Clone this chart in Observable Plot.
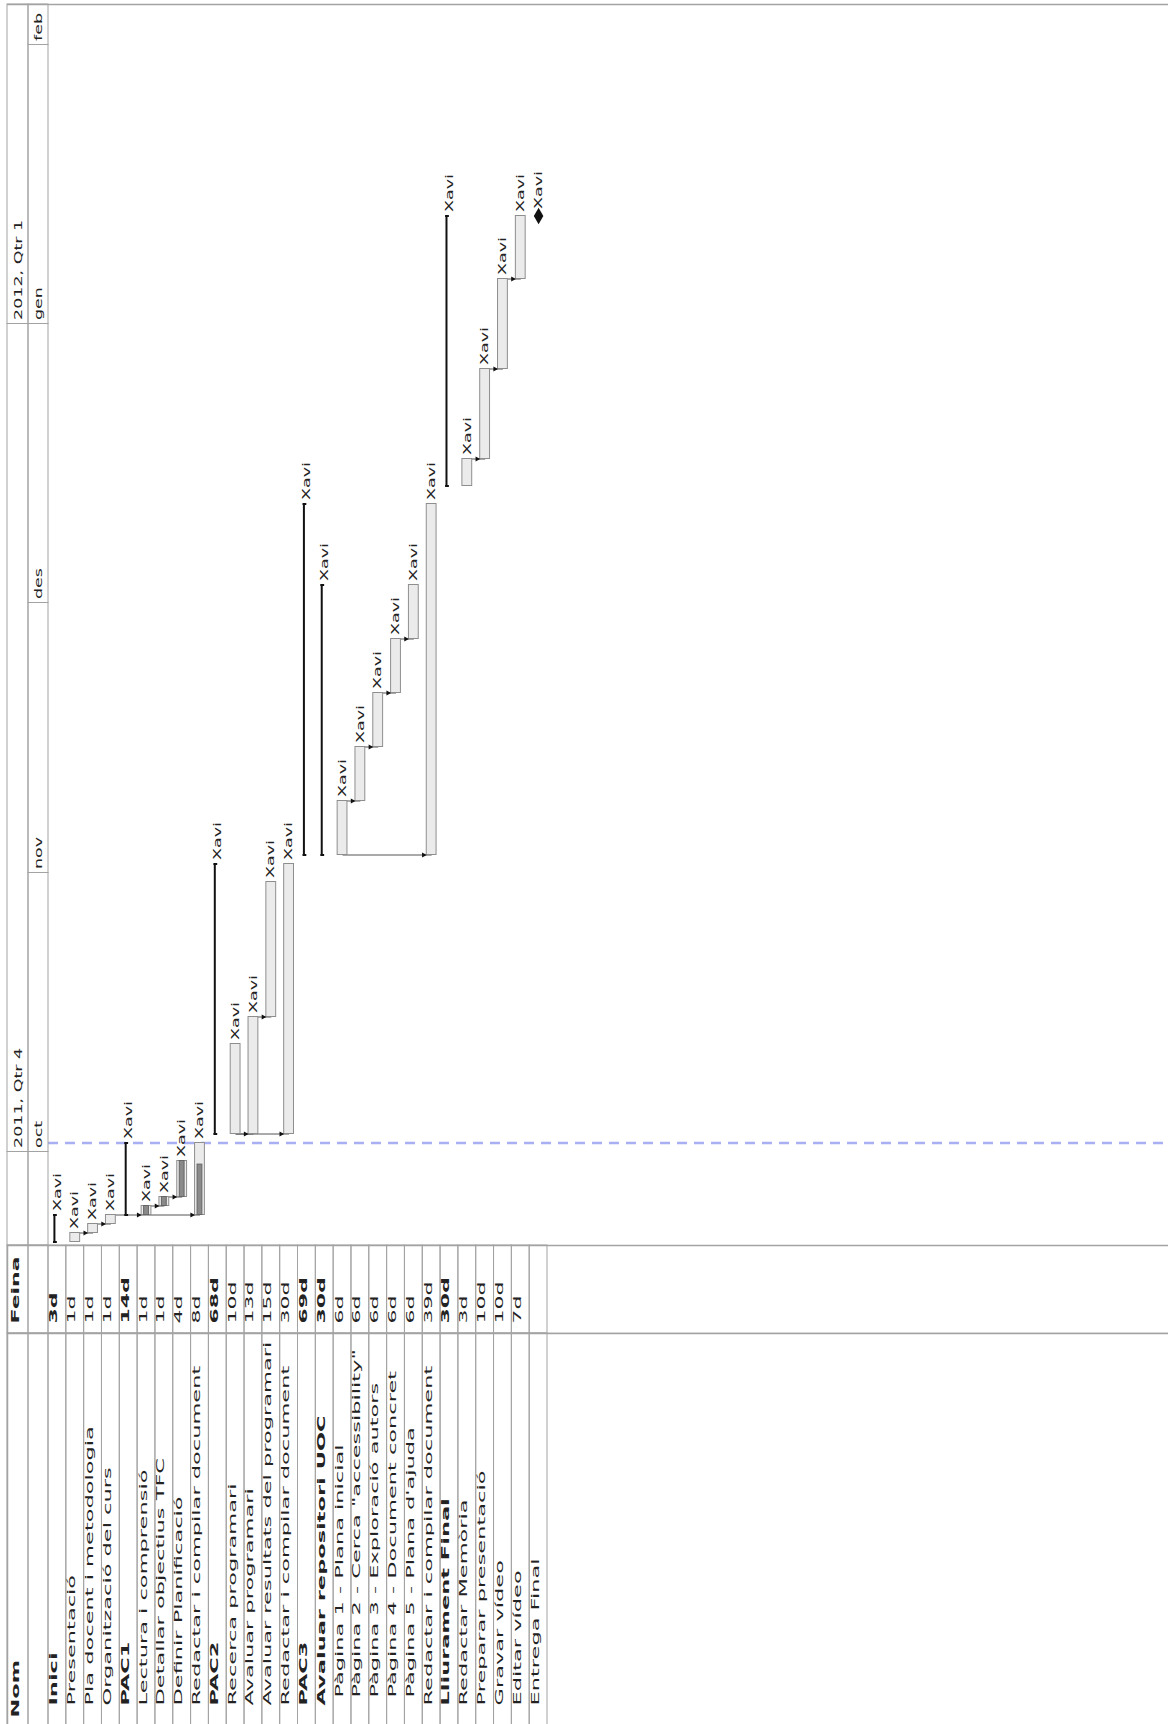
<!DOCTYPE html>
<html><head><meta charset="utf-8">
<script src="https://cdn.jsdelivr.net/npm/d3@7"></script>
<script src="https://cdn.jsdelivr.net/npm/@observablehq/plot@0.6"></script>
<style>
html,body{margin:0;padding:0;background:#fff;}
#wrap{position:relative;width:1168px;height:1724px;overflow:hidden;background:#fff;}
#wrap svg{position:absolute;left:0;}
</style></head><body><div id="wrap"></div>
<script>
// ---------------- data ----------------
const taskNames = ["Inici","Presentació","Pla docent i metodologia","Organització del curs","PAC1","Lectura i comprensió","Detallar objectius TFC","Definir Planificació","Redactar i compilar document","PAC2","Recerca programari","Avaluar programari","Avaluar resultats del programari","Redactar i compilar document","PAC3","Avaluar repositori UOC","Pàgina 1 - Plana inicial","Pàgina 2 - Cerca \"accessibility\"","Pàgina 3 - Exploració autors","Pàgina 4 - Document concret","Pàgina 5 - Plana d'ajuda","Redactar i compilar document","Lliurament Final","Redactar Memòria","Preparar presentació","Gravar vídeo","Editar vídeo","Entrega Final"];
const taskLevels = [0,1,1,1,0,1,1,1,1,0,1,1,1,1,0,1,2,2,2,2,2,1,0,1,1,1,1,1];
const taskWork = ["3d","1d","1d","1d","14d","1d","1d","4d","8d","68d","10d","13d","15d","30d","69d","30d","6d","6d","6d","6d","6d","39d","30d","3d","10d","10d","7d",""];
const taskStart = ["2011-09-21","2011-09-21","2011-09-22","2011-09-23","2011-09-24","2011-09-24","2011-09-25","2011-09-26","2011-09-24","2011-10-03","2011-10-03","2011-10-03","2011-10-16","2011-10-03","2011-11-03","2011-11-03","2011-11-03","2011-11-09","2011-11-15","2011-11-21","2011-11-27","2011-11-03","2011-12-14","2011-12-14","2011-12-17","2011-12-27","2012-01-06","2012-01-13"];
const taskEnd = ["2011-09-24","2011-09-22","2011-09-23","2011-09-24","2011-10-02","2011-09-25","2011-09-26","2011-09-30","2011-10-02","2011-11-02","2011-10-13","2011-10-16","2011-10-31","2011-11-02","2011-12-12","2011-12-03","2011-11-09","2011-11-15","2011-11-21","2011-11-27","2011-12-03","2011-12-12","2012-01-13","2011-12-17","2011-12-27","2012-01-06","2012-01-13","2012-01-13"];
const taskKind = ["summary","task","task","task","summary","task","task","task","task","summary","task","task","task","task","summary","summary","task","task","task","task","task","task","summary","task","task","task","task","milestone"];
const taskProgress = [0,0,0,0,0,1,1,1,0.7,0,0,0,0,0,0,0,0,0,0,0,0,0,0,0,0,0,0,0];
const taskResource = Array.from({length: 28}, () => "Xavi");

const depFrom = [1,2,3,5,6,5,10,10,11,16,17,18,19,16,23,24,25];
const depTo   = [2,3,5,6,7,8,11,13,12,17,18,19,20,21,24,25,26];
const depType = ["FS","FS","FS","FS","FS","SS","SS","SS","FS","FS","FS","FS","FS","SS","FS","FS","FS"];

const monthLabels = ["", "oct", "nov", "des", "gen", "feb"];
const monthStarts = ["2011-09-01","2011-10-01","2011-11-01","2011-12-01","2012-01-01","2012-02-01"];
const quarterLabels = ["", "2011, Qtr 4", "2012, Qtr 1"];
const quarterStarts = ["2011-07-01","2011-10-01","2012-01-01"];
const todayDate = "2011-10-02";
const chartStart = "2011-09-20T14:40Z";
const chartEnd = "2012-02-05T12:00Z";
const headNom = "Nom", headFeina = "Feina";

// ---------------- build ----------------
const W = 1168;
const N = taskNames.length;
const rows = taskNames.map((name, i) => ({
  i, name, level: taskLevels[i], work: taskWork[i],
  start: new Date(taskStart[i]), end: new Date(taskEnd[i]),
  kind: taskKind[i], progress: taskProgress[i], resource: taskResource[i]
}));
rows.forEach(r => { r.progEnd = new Date(+r.start + r.progress * (r.end - r.start)); });
const deps = depFrom.map((f, k) => ({
  from: f, to: depTo[k],
  date: depType[k] === "SS" ? rows[f].start : rows[f].end
}));
const yDomain = [new Date(chartStart), new Date(chartEnd)];
const clamp = d => new Date(Math.min(Math.max(+d, +yDomain[0]), +yDomain[1]));
function cells(labels, starts) {
  return starts.map((s, k) => ({
    label: labels[k], at: new Date(s),
    start: clamp(new Date(s)),
    end: clamp(k + 1 < starts.length ? new Date(starts[k + 1]) : yDomain[1])
  }));
}
const monthCells = cells(monthLabels, monthStarts);
const quarterCells = cells(quarterLabels, quarterStarts);

const xOpt = {type: "band", domain: d3.range(N), range: [48, 547], padding: 0, round: false, axis: null};
const style = {fontFamily: "'DejaVu Sans', sans-serif", fontSize: "10px", background: "transparent", color: "#222"};
const gridStroke = "#a3a3a3";

const arrowHead = {
  draw(ctx, size) {
    const s = Math.sqrt(size) * 1.1;
    ctx.moveTo(0, 0); ctx.lineTo(-s, -s * 0.55); ctx.lineTo(-s, s * 0.55); ctx.closePath();
  }
};

const summaries = rows.filter(d => d.kind === "summary");
const leaves = rows.filter(d => d.kind === "task");
const milestones = rows.filter(d => d.kind === "milestone");

const gantt = Plot.plot({
  width: W, height: 1246, marginTop: 4, marginBottom: 1, marginLeft: 48, marginRight: 0,
  style, x: xOpt,
  y: {type: "utc", domain: yDomain, axis: null},
  marks: [
    Plot.ruleY([new Date(todayDate)], {stroke: "#a9aff3", strokeWidth: 2.4, strokeDasharray: "10,7"}),
    Plot.rect(quarterCells, {y1: "start", y2: "end", insetLeft: -41, insetRight: 1140, fill: "none", stroke: gridStroke}),
    Plot.rect(monthCells, {y1: "start", y2: "end", insetLeft: -20, insetRight: 1120, fill: "none", stroke: gridStroke}),
    Plot.ruleY([yDomain[1]], {insetLeft: -41, stroke: gridStroke, strokeWidth: 1.5}),
    Plot.text(quarterCells.filter(d => d.label), {y: "at", text: "label", frameAnchor: "left", dx: -30, dy: -4, rotate: -90, textAnchor: "start"}),
    Plot.text(monthCells.filter(d => d.label), {y: "at", text: "label", frameAnchor: "left", dx: -10, dy: -4, rotate: -90, textAnchor: "start"}),
    Plot.link(deps, {x1: "from", x2: "to", y1: "date", y2: "date", stroke: "#555", strokeWidth: 1}),
    Plot.ruleX(summaries, {x: "i", y1: "start", y2: "end", dx: -3, stroke: "#111", strokeWidth: 2}),
    Plot.tickY(summaries, {x: "i", y: "start", insetLeft: 5, insetRight: 9, stroke: "#111", strokeWidth: 2}),
    Plot.tickY(summaries, {x: "i", y: "end", insetLeft: 5, insetRight: 9, stroke: "#111", strokeWidth: 2}),
    Plot.rect(leaves, {x: "i", y1: "start", y2: "end", insetLeft: 4, insetRight: 4, fill: "#ebebeb", stroke: "#8e8e8e"}),
    Plot.rect(leaves.filter(d => d.progress > 0), {x: "i", y1: "start", y2: "progEnd", insetLeft: 6.5, insetRight: 6.5, fill: "#8a8a8a", stroke: "#666"}),
    Plot.dot(deps, {x: "to", y: "date", symbol: arrowHead, r: 2.4, fill: "#111", stroke: "none", dx: -4.9}),
    Plot.dot(milestones, {x: "i", y: "start", symbol: "diamond", r: 5, fill: "#111"}),
    Plot.text(rows.filter(d => d.kind !== "milestone"), {x: "i", y: "end", text: "resource", dy: -4, rotate: -90, textAnchor: "start"}),
    Plot.text(milestones, {x: "i", y: "end", text: "resource", dy: -7, rotate: -90, textAnchor: "start"})
  ]
});

const feina = Plot.plot({
  width: W, height: 90, marginTop: 1, marginBottom: 1, marginLeft: 48, marginRight: 0,
  style, x: xOpt,
  marks: [
    Plot.frame({insetLeft: -41, insetRight: -4, stroke: gridStroke, strokeWidth: 1.5}),
    Plot.rect([0], {insetLeft: -41, insetRight: 1140, fill: "none", stroke: gridStroke}),
    Plot.rect([0], {insetLeft: -20, insetRight: 1120, fill: "none", stroke: gridStroke}),
    Plot.cell(rows, {x: "i", fill: "none", stroke: gridStroke}),
    Plot.text([headFeina], {text: d => d, frameAnchor: "bottom-left", dx: -30, dy: -10, rotate: -90, textAnchor: "start", fontWeight: "bold"}),
    Plot.text(rows.filter(d => d.kind === "summary"), {x: "i", text: "work", frameAnchor: "bottom", dy: -10, rotate: -90, textAnchor: "start", fontWeight: "bold"}),
    Plot.text(rows.filter(d => d.kind !== "summary"), {x: "i", text: "work", frameAnchor: "bottom", dy: -10, rotate: -90, textAnchor: "start"})
  ]
});

const nom = Plot.plot({
  width: W, height: 392, marginTop: 1, marginBottom: 0, marginLeft: 48, marginRight: 0,
  style, x: xOpt,
  marks: [
    Plot.frame({insetLeft: -41, insetRight: -4, insetBottom: -6, stroke: gridStroke, strokeWidth: 1.5}),
    Plot.rect([0], {insetLeft: -41, insetRight: 1140, insetBottom: -6, fill: "none", stroke: gridStroke}),
    Plot.rect([0], {insetLeft: -20, insetRight: 1120, insetBottom: -6, fill: "none", stroke: gridStroke}),
    Plot.cell(rows, {x: "i", fill: "none", stroke: gridStroke, insetBottom: -6}),
    Plot.text([headNom], {text: d => d, frameAnchor: "bottom-left", dx: -30, dy: -7, rotate: -90, textAnchor: "start", fontWeight: "bold"}),
    Plot.text(rows.filter(d => d.kind === "summary"), {x: "i", text: "name", frameAnchor: "bottom", dy: -19, rotate: -90, textAnchor: "start", fontWeight: "bold"}),
    Plot.text(rows.filter(d => d.kind !== "summary" && d.level < 2), {x: "i", text: "name", frameAnchor: "bottom", dy: -19, rotate: -90, textAnchor: "start"}),
    Plot.text(rows.filter(d => d.kind !== "summary" && d.level >= 2), {x: "i", text: "name", frameAnchor: "bottom", dy: -27, rotate: -90, textAnchor: "start"})
  ]
});

function stretch(svg, s) {
  d3.select(svg).selectAll("text").each(function () {
    const t = this.getAttribute("transform");
    if (t) this.setAttribute("transform", t + ` scale(${s},1)`);
  });
}
stretch(gantt, 1.75);
stretch(feina, 2.2);
stretch(nom, 2.25);

const wrap = document.getElementById("wrap");
gantt.style.top = "0px";
feina.style.top = "1244px";
nom.style.top = "1332px";
wrap.append(gantt, feina, nom);
</script>
</body></html>
